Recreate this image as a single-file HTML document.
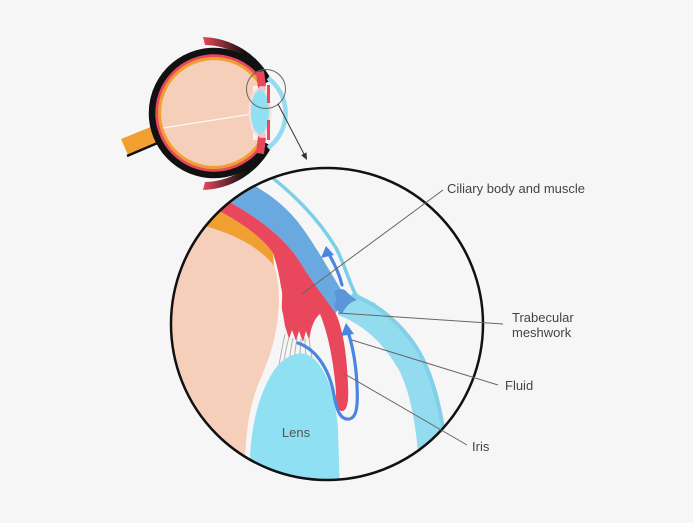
<!DOCTYPE html>
<html><head><meta charset="utf-8"><style>
html,body{margin:0;padding:0;background:#f6f6f6;}
svg{display:block;}
text{font-family:"Liberation Sans",Arial,sans-serif;}
</style></head><body>
<svg width="693" height="523" viewBox="0 0 693 523" xmlns="http://www.w3.org/2000/svg">
<defs>
<linearGradient id="lidT" x1="203" y1="0" x2="245" y2="0" gradientUnits="userSpaceOnUse">
<stop offset="0" stop-color="#e8475c"/><stop offset="1" stop-color="#111"/></linearGradient>
<clipPath id="bc"><circle cx="327" cy="324" r="156"/></clipPath>
</defs>
<rect width="693" height="523" fill="#f6f6f6"/>

<!-- small eye -->
<path d="M203 37 A80 80 0 0 1 271 79 L266 81 A72 72 0 0 0 205 45 Z" fill="url(#lidT)"/>
<path d="M203 190 A80 80 0 0 0 271 148 L266 146 A72 72 0 0 1 205 182 Z" fill="url(#lidT)"/>
<polygon points="121,139 158,124 164,140 128,155" fill="#f0a030"/>
<line x1="127" y1="156" x2="160" y2="142" stroke="#111" stroke-width="2.5"/>
<circle cx="214" cy="113" r="53" fill="#f6cfbb"/>
<path d="M261.2 85.75 A54.5 54.5 0 1 0 261.2 140.25" fill="none" stroke="#f0a030" stroke-width="3.2"/>
<path d="M263.8 84.25 A57.5 57.5 0 1 0 263.8 141.75" fill="none" stroke="#e8475c" stroke-width="3"/>
<path d="M267.7 82 A62 62 0 1 0 267.7 144" fill="none" stroke="#111" stroke-width="6.5"/>
<line x1="163" y1="128" x2="252" y2="114" stroke="#fff" stroke-width="1.3" opacity="0.85"/>
<!-- front -->
<rect x="253" y="86" width="18" height="54" fill="#f6f6f6"/>
<ellipse cx="260" cy="112" rx="11.5" ry="25" fill="#f4dede"/>
<path d="M256 72 L264 71 L266 86 L258 88 Z" fill="#e8475c"/>
<path d="M256 153 L264 154 L266 138 L258 136 Z" fill="#e8475c"/>
<ellipse cx="262" cy="89" rx="4" ry="3" fill="#f3c3c8"/>
<ellipse cx="262" cy="135" rx="4" ry="3" fill="#f3c3c8"/>
<ellipse cx="260" cy="112" rx="9" ry="22" fill="#8ee0f2"/>
<rect x="267" y="85" width="3" height="18" fill="#e8475c"/>
<rect x="267" y="120" width="3" height="20" fill="#e8475c"/>
<path d="M268 78 A43.6 43.6 0 0 1 268 148" fill="none" stroke="#93dcef" stroke-width="4.5"/>
<circle cx="266" cy="89" r="19.5" fill="none" stroke="#666" stroke-width="1"/>
<line x1="278" y1="104" x2="304" y2="154" stroke="#333" stroke-width="1"/>
<polygon points="307,160 301.1,155.2 306.5,152.4" fill="#333"/>

<!-- big circle -->
<circle cx="327" cy="324" r="156" fill="#f6f6f6"/>
<g clip-path="url(#bc)">
<path d="M150 215 L205 226 C240 236,262 250,274 265 C279 280,280 300,278 315 C276 340,268 362,258 385 C250 405,246 430,245 460 L244 495 L150 495 Z" fill="#f6cfbb"/>
<path d="M195 207 L221 212 C240 222,262 237,273 253 L274 266 C262 250,240 236,205 226 Z" fill="#f0a030"/>
<path d="M240 176 L248 182 C270 194,285 206,298 222 C312 240,328 268,346 298 L335 314 C325 298,312 282,300 262 C288 243,265 220,218 196 Z" fill="#6aa9e0"/>
<path d="M205 190 L218 196 C265 220,288 243,300 262 C312 282,325 298,336 314 C343 330,347 355,348 385 C349 402,347 411,342 411 C337 411,336 402,336 392 C334 365,329 336,320 314 C316 317,313 323,311 330 L309 340 L306 331 L303 342 L299 331 L296 341 L292 330 L289 339 L285 326 L283 314 C280 305,284 297,281 287 C279 273,276 262,273 253 C262 237,240 222,221 212 L200 200 Z" fill="#e8475c"/>
<path d="M262 170 C290 190,318 218,336 248 C345 265,350 285,356 295 C362 300,368 302,375 305" fill="none" stroke="#7bd0e7" stroke-width="3.5"/>
<path d="M346 293 C372 300,400 320,418 350 C435 380,445 425,449 495 L420 495 C419 440,413 400,400 372 C385 345,365 325,338 315 Z" fill="#93dcef"/>
<path d="M352 295 C374 302,401 322,419 352 C436 382,446 427,450 495" fill="none" stroke="#7fd0e8" stroke-width="4"/>
<path d="M334 292 C338 288,344 288,347 292 C350 296,354 298,357 300 C350 302,346 306,342 314 C339 312,336 310,334 306 C336 302,337 298,334 292 Z" fill="#5a96d8"/>
<g stroke="#b0b0b0" stroke-width="1" fill="none">
<path d="M285 334 Q281 352 278 372"/>
<path d="M289 337 Q285 352 283 368"/>
<path d="M293 338 Q290 352 289 364"/>
<path d="M297 338 Q295 350 294 362"/>
<path d="M301 339 Q300 350 300 360"/>
<path d="M305 338 Q305 348 306 358"/>
<path d="M309 338 Q310 348 312 358"/>
</g>
<path d="M248 495 L250 460 C251 420,262 385,278 365 C288 355,300 350,310 356 C325 365,336 395,338 430 L340 495 Z" fill="#8ee0f2"/>
<g stroke="#4a86e0" stroke-width="3.2" fill="none" stroke-linecap="round">
<path d="M342 285 C339 273,334 263,330 256"/>
<path d="M298 343 C318 350,330 372,334 395 C337 412,341 420,349 419 C357 418,358 405,357 385 C356 365,353 348,349 335"/>
</g>
<polygon points="326,246 321,258 334,255" fill="#4a86e0"/>
<polygon points="346,323 341,336 354,334" fill="#4a86e0"/>
</g>
<circle cx="327" cy="324" r="156" fill="none" stroke="#111" stroke-width="2.5"/>

<!-- leaders -->
<g stroke="#666" stroke-width="1">
<line x1="302" y1="294" x2="443" y2="190"/>
<line x1="338" y1="313" x2="503" y2="324"/>
<line x1="352" y1="340" x2="498" y2="385"/>
<line x1="343" y1="373" x2="467" y2="445"/>
</g>
<g font-size="13" fill="#444">
<text x="447" y="193">Ciliary body and muscle</text>
<text x="512" y="322">Trabecular</text>
<text x="512" y="337">meshwork</text>
<text x="505" y="390">Fluid</text>
<text x="472" y="451">Iris</text>
<text x="296" y="437" text-anchor="middle" fill="#555">Lens</text>
</g>
</svg>
</body></html>
